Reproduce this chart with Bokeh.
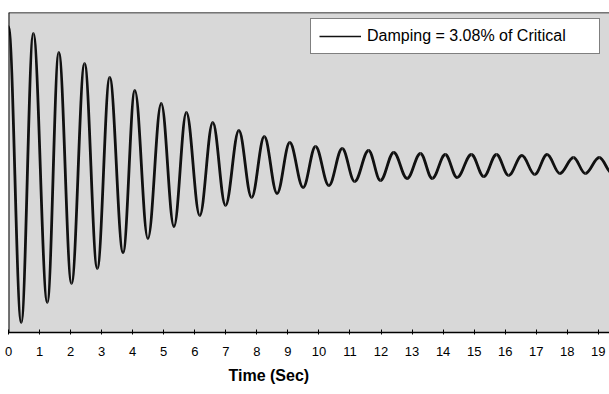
import numpy as np
from bokeh.plotting import figure
from bokeh.models import (Range1d, FixedTicker, Legend, LegendItem, Title,
                          ColumnDataSource, Span)
from bokeh.embed import file_html
from bokeh.resources import INLINE

# Extrema (peaks / troughs) of the free-vibration record
ext_time = [0.00, 0.41, 0.80, 1.25, 1.62, 2.03, 2.45, 2.86, 3.26, 3.69,
            4.07, 4.49, 4.92, 5.33, 5.73, 6.16, 6.58, 6.99, 7.42, 7.83,
            8.24, 8.65, 9.06, 9.49, 9.89, 10.32, 10.75, 11.15, 11.60, 11.98,
            12.41, 12.84, 13.27, 13.65, 14.07, 14.45, 14.91, 15.31, 15.72,
            16.11, 16.54, 16.95, 17.35, 17.76, 18.20, 18.58, 19.03, 19.45]
ext_disp = [1.40, -1.56, 1.33, -1.36, 1.14, -1.17, 1.03, -1.02, 0.89, -0.86,
            0.76, -0.72, 0.63, -0.60, 0.54, -0.49, 0.44, -0.39, 0.36, -0.31,
            0.30, -0.27, 0.24, -0.21, 0.20, -0.19, 0.18, -0.15, 0.16, -0.14,
            0.14, -0.12, 0.13, -0.12, 0.12, -0.11, 0.12, -0.10, 0.12,
            -0.09, 0.11, -0.08, 0.12, -0.07, 0.09, -0.07, 0.09, -0.07]
tick_values = list(range(20))
legend_label = "Damping = 3.08% of Critical"
x_label = "Time (Sec)"

t = np.array(ext_time)
d = np.array(ext_disp)
k = 0.3642  # control-point fraction giving sine-like half waves
dt = t[1:] - t[:-1]
src = ColumnDataSource(dict(
    x0=t[:-1], y0=d[:-1], x1=t[1:], y1=d[1:],
    cx0=t[:-1] + k * dt, cy0=d[:-1], cx1=t[1:] - k * dt, cy1=d[1:]))

x_rng = Range1d(0, 19.36)
y_rng = Range1d(-1.66, 1.54)
p = figure(width=609, height=394, output_backend="svg", toolbar_location=None,
           x_range=x_rng, y_range=y_rng,
           min_border_left=8, min_border_right=0, min_border_top=12,
           min_border_bottom=62)
p.background_fill_color = "#d8d8d8"
p.border_fill_color = "white"
p.outline_line_color = None
p.xgrid.visible = False
p.ygrid.visible = False
p.yaxis.visible = False

# frame edges (left and top; the right side runs off the page)
p.add_layout(Span(location=x_rng.start, dimension="height",
                  line_color="black", line_width=2))
p.add_layout(Span(location=y_rng.end, dimension="width",
                  line_color="black", line_width=1.5))

p.bezier(x0="x0", y0="y0", x1="x1", y1="y1", cx0="cx0", cy0="cy0",
         cx1="cx1", cy1="cy1", source=src, line_color="#111111",
         line_width=2.8)
dummy = p.line(x=[np.nan], y=[np.nan], line_color="#111111", line_width=1.5)

ax = p.xaxis[0]
ax.ticker = FixedTicker(ticks=tick_values)
ax.minor_tick_line_color = None
ax.axis_line_color = "black"
ax.axis_line_width = 1.5
ax.major_tick_line_color = "black"
ax.major_tick_in = 3
ax.major_tick_out = 2
ax.major_label_standoff = 12
ax.major_label_text_font = "Liberation Sans"
ax.major_label_text_font_size = "13px"
ax.major_label_text_color = "black"

p.add_layout(Title(text=x_label, align="left", offset=220, standoff=13,
                   text_font="Liberation Sans", text_font_size="16px",
                   text_font_style="bold", text_color="black"), "below")

legend = Legend(items=[LegendItem(label=legend_label, renderers=[dummy])],
                location=(302, 278), padding=8, glyph_width=42,
                glyph_height=18, label_height=18, label_standoff=6,
                label_width=224, label_text_font="Liberation Sans",
                label_text_font_size="16px", label_text_color="black",
                border_line_color="black", border_line_width=1,
                background_fill_color="white", background_fill_alpha=1,
                margin=0)
p.add_layout(legend)

open("out.html", "w").write(file_html(p, INLINE))
